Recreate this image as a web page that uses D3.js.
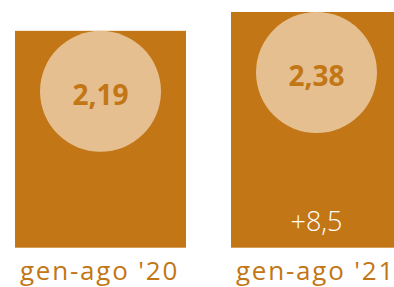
<!DOCTYPE html>
<html>
<head>
<meta charset="utf-8">
<script src="https://cdn.jsdelivr.net/npm/d3@7"></script>
<style>
  html, body { margin: 0; padding: 0; background: #fff; }
</style>
</head>
<body>
<svg id="chart" width="394" height="287"></svg>
<script>
// Data
const periods = ["gen-ago '20", "gen-ago '21"];
const values = [2.19, 2.38];
const valueLabels = ["2,19", "2,38"];
const changeLabels = ["", "+8,5"];

const barColor = "#C27615";
const circleColor = "#E5BF8F";

function barChart(svgIdName)
 {
  const svg = d3.select("#" + svgIdName);
  const baseY = 247.7;
  const topY = 12;

  // Scales
  const xScale = d3.scaleBand()
    .domain(periods)
    .range([15, 402])
    .paddingInner(45 / 216)
    .paddingOuter(0);
  const yScale = d3.scaleLinear().domain([0, d3.max(values)]).range([baseY, topY]);

  const rows = periods.map((p, i) => ({ period: p, value: values[i], label: valueLabels[i], change: changeLabels[i] }));

  const g = svg.append("g");

  // Bars
  g.selectAll(".bar")
    .data(rows)
    .enter().append("rect")
    .attr("x", d => xScale(d.period))
    .attr("y", d => yScale(d.value))
    .attr("width", xScale.bandwidth())
    .attr("height", d => baseY - yScale(d.value))
    .attr("fill", barColor);

  // Circles hanging from the top of each bar
  const r = 60.5;
  const cx = d => xScale(d.period) + xScale.bandwidth() / 2;
  g.selectAll(".bubble")
    .data(rows)
    .enter().append("circle")
    .attr("cx", cx)
    .attr("cy", d => yScale(d.value) + r)
    .attr("r", r)
    .attr("fill", circleColor);

  // Values inside the circles
  g.selectAll(".val")
    .data(rows)
    .enter().append("text")
    .attr("x", cx)
    .attr("y", d => yScale(d.value) + r + 13.5)
    .attr("text-anchor", "middle")
    .attr("font-family", "'Open Sans', sans-serif")
    .attr("font-weight", 700)
    .attr("font-size", 28)
    .attr("fill", barColor)
    .text(d => d.label);

  // Change at the foot of the bar
  g.selectAll(".chg")
    .data(rows.filter(d => d.change))
    .enter().append("text")
    .attr("x", cx)
    .attr("y", baseY - 17)
    .attr("text-anchor", "middle")
    .attr("font-family", "'Open Sans', sans-serif")
    .attr("font-weight", 300)
    .attr("font-size", 27)
    .attr("fill", "#fff")
    .text(d => d.change);

  // Period labels
  g.selectAll(".lab")
    .data(rows)
    .enter().append("text")
    .attr("x", d => cx(d) - 1)
    .attr("y", 280)
    .attr("text-anchor", "middle")
    .attr("font-family", "'Open Sans', sans-serif")
    .attr("font-weight", 400)
    .attr("font-size", 26)
    .attr("letter-spacing", 1.8)
    .attr("fill", barColor)
    .text(d => d.period);
 }

barChart("chart");
</script>
</body>
</html>
